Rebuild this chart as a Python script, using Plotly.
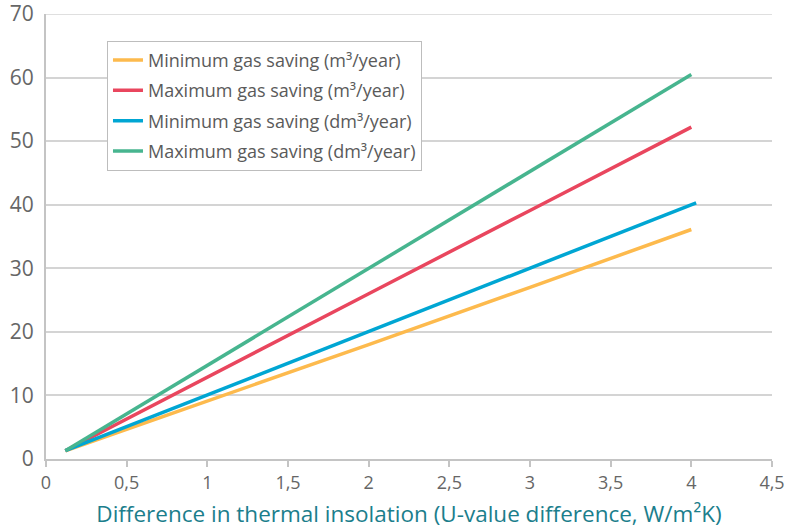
import plotly.graph_objects as go

# U-value difference (W/m2K)
x_vals = [0.12, 1, 2, 3, 4]
x_vals_blue = [0.12, 1, 2, 3, 4.03]

min_gas_m3 = [1.3, 9.1, 18.0, 27.0, 36.1]
max_gas_m3 = [1.3, 12.8, 26.0, 39.1, 52.2]
min_gas_dm3 = [1.3, 10.1, 20.0, 30.0, 40.3]
max_gas_dm3 = [1.3, 14.7, 30.0, 45.3, 60.5]

series_names = [
    "Minimum gas saving (m³/year)",
    "Maximum gas saving (m³/year)",
    "Minimum gas saving (dm³/year)",
    "Maximum gas saving (dm³/year)",
]
colors = ["#FDBA4D", "#E9465E", "#00A6D3", "#47B58F"]

fig = go.Figure()
for i, (name, xs, ys, col) in enumerate(zip(
    series_names,
    [x_vals, x_vals, x_vals_blue, x_vals],
    [min_gas_m3, max_gas_m3, min_gas_dm3, max_gas_dm3],
    colors,
)):
    fig.add_trace(go.Scatter(
        x=xs, y=ys, name=name, mode="lines",
        legendgroup=f"g{i}",
        line=dict(color=col, width=3.5),
    ))

# top gridline (plotly drops the one sitting on the plot edge)
fig.add_shape(type="line", xref="paper", x0=0, x1=1, yref="y", y0=70, y1=70,
              line=dict(color="#d4d4d4", width=1.5), layer="below")

fig.update_layout(
    width=787, height=529,
    margin=dict(l=46, r=15, t=14, b=70),
    plot_bgcolor="white", paper_bgcolor="white",
    separators=", ",
    font=dict(family="Open Sans, sans-serif", color="#555555"),
    showlegend=True,
    legend=dict(
        x=0.084, y=0.94, xanchor="left", yanchor="top",
        bgcolor="white", bordercolor="#bdbdbd", borderwidth=1,
        font=dict(size=18, color="#5a5a5a"),
        itemwidth=30, tracegroupgap=4,
    ),
)
fig.update_xaxes(
    range=[0, 4.5], dtick=0.5, tick0=0,
    showgrid=False, zeroline=False, automargin=False,
    showline=True, linecolor="#c4c4c4", linewidth=2,
    ticks="outside", ticklen=6, tickcolor="#c4c4c4", tickwidth=1.5,
    ticklabeloverflow="allow",
    tickfont=dict(size=18, color="#666666"),
    title=dict(text="Difference in thermal insolation (U-value difference, W/m²K)",
               font=dict(size=22.5, color="#1B7E8C"), standoff=15),
)
fig.update_yaxes(
    range=[0, 70], dtick=10,
    showgrid=True, gridcolor="#d4d4d4", gridwidth=1.5,
    zeroline=False, automargin=False,
    showline=True, linecolor="#c4c4c4", linewidth=2,
    ticks="", ticklabelstandoff=6, ticklabeloverflow="allow",
    tickfont=dict(size=21, color="#666666"),
)

fig.write_html("out.html", config={"displayModeBar": False},
               post_script="document.body.style.margin='0';")
